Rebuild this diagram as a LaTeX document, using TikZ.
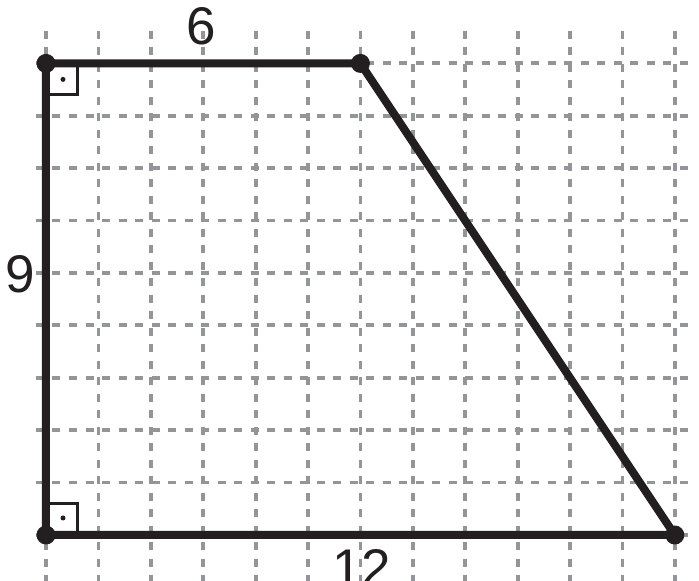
\documentclass[tikz,border=0pt]{standalone}
\usepackage{fontspec}
\setmainfont{Liberation Sans}
\definecolor{gridgray}{HTML}{939598}
\definecolor{ink}{HTML}{231F20}
\begin{document}
\begin{tikzpicture}[x=52.4pt,y=52.4pt,
  gridline/.style={gridgray,line width=3.8pt,dash pattern=on 8pt off 8.5pt},
  edge/.style={ink,line width=8pt,line join=round},
  vdot/.style={circle,fill=ink,inner sep=0pt,minimum size=19pt},
  rmark/.style={ink,line width=3pt},
  lbl/.style={font=\fontsize{53}{53}\selectfont,text=ink,inner sep=0pt}]
\useasboundingbox (-46pt,-46pt) rectangle (653pt,535pt);
% grid
\foreach \i in {0,...,12}
  \draw[gridline] (\i,504pt) -- (\i,-46pt);
\foreach \j in {0,...,9}
  \draw[gridline] (-10pt,\j) -- (644pt,\j);
% vertices
\coordinate (A) at (0,0);
\coordinate (B) at (12,0);
\coordinate (C) at (6,9);
\coordinate (D) at (0,9);
% right angle marks
\draw[rmark] ([yshift=-31pt]D) -- ([xshift=31pt,yshift=-31pt]D) -- ([xshift=31pt]D);
\fill[ink] ([xshift=17pt,yshift=-16pt]D) circle (2.5pt);
\draw[rmark] ([yshift=31pt]A) -- ([xshift=31pt,yshift=31pt]A) -- ([xshift=31pt]A);
\fill[ink] ([xshift=17pt,yshift=17pt]A) circle (2.5pt);
% trapezoid
\draw[edge] (A) -- (B) -- (C) -- (D) -- cycle;
\foreach \p in {A,B,C,D}
  \node[vdot] (dot\p) at (\p) {};
% labels
\node[lbl] (top) at (155pt,508.5pt) {6};
\node[lbl] (left) at (-26pt,261pt) {9};
\node[lbl] (bottom) at (316pt,-33pt) {12};
\end{tikzpicture}
\end{document}
